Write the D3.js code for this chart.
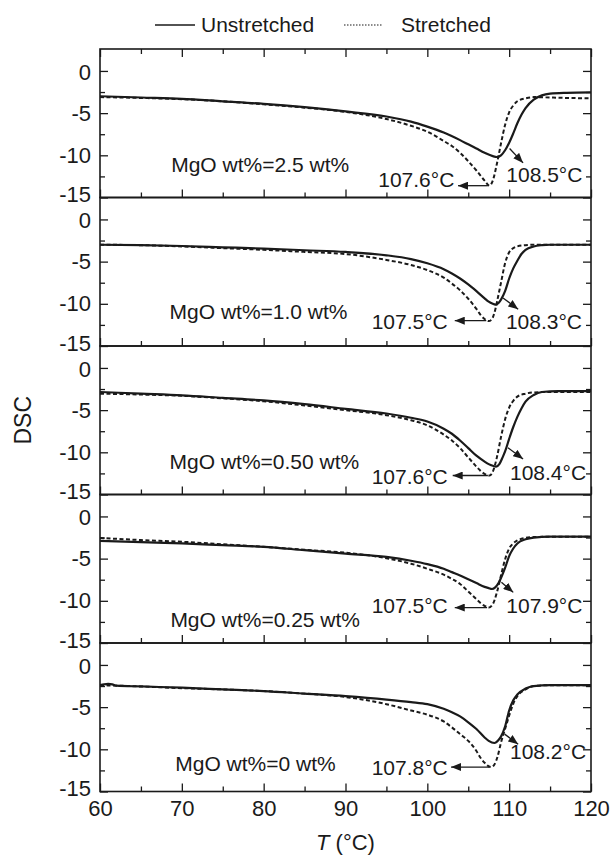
<!DOCTYPE html>
<html>
<head>
<meta charset="utf-8">
<script src="https://cdn.jsdelivr.net/npm/d3@7"></script>
<style>
  body { margin: 0; background: #fff; }
  svg { display: block; }
  text { font-family: "Liberation Sans", Arial, Helvetica, sans-serif; fill: #1a1a1a; }
</style>
</head>
<body>
<svg id="chart" width="612" height="857"></svg>
<script>
// ---- DSC melting curves, MgO loading series ----
const loadings = ["2.5", "1.0", "0.50", "0.25", "0"];           // wt%
const peakUnstretched = [108.5, 108.3, 108.4, 107.9, 108.2];      // °C
const peakStretched   = [107.6, 107.5, 107.6, 107.5, 107.8];      // °C

// [T (°C), DSC] pairs, unstretched (solid) and stretched (dashed)
const unstretched25 = [[60,-3.0],[65,-3.15],[70,-3.3],[75,-3.6],[80,-3.9],[85,-4.3],[90,-4.8],[95,-5.4],[98,-6.0],[100,-6.6],[102,-7.3],[104,-8.2],[105,-8.7],[106,-9.2],[107,-9.7],[108,-10.1],[108.5,-10.2],[109,-10.0],[109.5,-9.4],[110,-8.5],[110.5,-7.4],[111,-6.2],[111.5,-5.2],[112,-4.4],[113,-3.4],[114,-2.9],[115,-2.7],[117,-2.6],[120,-2.55]];
const stretched25   = [[60,-3.1],[65,-3.2],[70,-3.35],[75,-3.6],[80,-3.95],[85,-4.35],[90,-4.85],[95,-5.7],[98,-6.5],[100,-7.2],[102,-8.3],[103,-8.9],[104,-9.7],[105,-10.7],[106,-11.8],[106.5,-12.4],[107,-13.0],[107.6,-13.6],[108,-13.0],[108.5,-11.0],[109,-8.6],[109.5,-6.4],[110,-4.9],[110.5,-4.1],[111,-3.6],[112,-3.25],[113,-3.1],[115,-3.15],[117,-3.2],[120,-3.25]];

const unstretched10 = [[60,-3.0],[65,-3.05],[70,-3.15],[75,-3.3],[80,-3.45],[85,-3.65],[90,-3.85],[95,-4.25],[98,-4.7],[100,-5.2],[102,-5.9],[103,-6.4],[104,-7.0],[105,-7.7],[106,-8.5],[107,-9.35],[107.5,-9.75],[108,-10.0],[108.3,-10.1],[108.7,-9.9],[109,-9.5],[109.5,-8.5],[110,-7.0],[110.5,-5.8],[111,-4.9],[111.5,-4.1],[112,-3.6],[113,-3.2],[114,-3.05],[115,-3.0],[120,-3.0]];
const stretched10   = [[60,-3.0],[65,-3.05],[70,-3.2],[75,-3.4],[80,-3.6],[85,-3.85],[90,-4.1],[95,-4.8],[98,-5.4],[100,-6.0],[102,-6.9],[103,-7.6],[104,-8.4],[105,-9.4],[106,-10.6],[106.5,-11.3],[107,-11.8],[107.5,-12.05],[107.9,-11.8],[108.3,-10.7],[108.7,-8.9],[109,-7.5],[109.5,-5.2],[110,-3.9],[110.5,-3.4],[111,-3.2],[112,-3.05],[113,-3.0],[120,-3.0]];

const unstretched050 = [[60,-2.85],[65,-3.05],[70,-3.25],[75,-3.55],[80,-3.85],[85,-4.3],[90,-4.85],[95,-5.4],[98,-5.9],[100,-6.35],[102,-7.2],[103,-7.8],[104,-8.6],[105,-9.5],[106,-10.4],[107,-11.1],[107.5,-11.4],[108,-11.6],[108.4,-11.7],[108.8,-11.4],[109.2,-10.6],[109.5,-9.9],[110,-8.4],[110.5,-7.0],[111,-5.8],[111.5,-4.8],[112,-4.0],[113,-3.2],[114,-2.85],[116,-2.75],[120,-2.75]];
const stretched050   = [[60,-3.05],[65,-3.15],[70,-3.3],[75,-3.6],[80,-3.95],[85,-4.45],[90,-5.0],[95,-5.6],[98,-6.2],[100,-6.8],[102,-7.9],[103,-8.6],[104,-9.5],[105,-10.6],[106,-11.7],[106.5,-12.2],[107,-12.55],[107.6,-12.75],[108,-12.3],[108.5,-10.6],[109,-8.2],[109.5,-6.1],[110,-4.7],[110.5,-3.9],[111,-3.4],[112,-3.05],[113,-2.9],[115,-2.85],[120,-2.85]];

const unstretched025 = [[60,-2.9],[65,-3.05],[70,-3.2],[75,-3.4],[80,-3.6],[85,-4.0],[90,-4.4],[95,-4.8],[98,-5.25],[100,-5.65],[102,-6.2],[103,-6.6],[104,-7.0],[105,-7.45],[106,-7.9],[107,-8.35],[107.5,-8.5],[107.9,-8.6],[108.3,-8.4],[108.7,-7.9],[109,-7.3],[109.5,-6.1],[110,-4.7],[110.5,-3.8],[111,-3.2],[112,-2.7],[113,-2.5],[115,-2.4],[120,-2.4]];
const stretched025   = [[60,-2.55],[65,-2.8],[70,-3.0],[75,-3.3],[80,-3.6],[85,-3.95],[90,-4.3],[95,-4.95],[98,-5.6],[100,-6.2],[102,-6.9],[103,-7.4],[104,-8.0],[105,-8.9],[106,-9.8],[106.5,-10.25],[107,-10.6],[107.5,-10.8],[108,-10.4],[108.5,-9.0],[109,-7.0],[109.5,-5.1],[110,-3.8],[110.5,-3.2],[111,-2.85],[112,-2.55],[113,-2.45],[115,-2.4],[120,-2.4]];

const unstretched0 = [[60,-2.4],[60.5,-2.3],[61,-2.25],[61.5,-2.3],[62,-2.45],[65,-2.55],[70,-2.7],[75,-2.9],[80,-3.1],[85,-3.4],[90,-3.7],[95,-4.1],[98,-4.4],[100,-4.65],[102,-5.2],[103,-5.6],[104,-6.1],[105,-6.8],[106,-7.6],[107,-8.6],[107.5,-9.0],[108.2,-9.25],[108.7,-8.9],[109,-8.5],[109.5,-7.3],[110,-5.4],[110.5,-4.2],[111,-3.5],[112,-2.8],[113,-2.5],[115,-2.4],[120,-2.4]];
const stretched0   = [[60,-2.4],[65,-2.55],[70,-2.75],[75,-2.9],[80,-3.1],[85,-3.4],[90,-3.8],[95,-4.65],[98,-5.4],[100,-5.9],[102,-6.7],[103,-7.4],[104,-8.2],[105,-9.0],[106,-10.2],[106.5,-11.0],[107,-11.6],[107.8,-12.1],[108.2,-11.8],[108.6,-10.8],[109,-9.2],[109.5,-7.6],[110,-6.0],[110.5,-4.6],[111,-3.7],[112,-2.9],[113,-2.5],[115,-2.4],[120,-2.4]];

const unstretchedSeries = [unstretched25, unstretched10, unstretched050, unstretched025, unstretched0];
const stretchedSeries   = [stretched25, stretched10, stretched050, stretched025, stretched0];

const xMajor = [60, 70, 80, 90, 100, 110, 120];
const xMinor = [65, 75, 85, 95, 105, 115];
const yMajor = [0, -5, -10, -15];
const yMinor = [-2.5, -7.5, -12.5];

// ---- annotation placement per panel (data coordinates) ----
const noteLayout = [
  { tag: [68.7, -12.0], sText: [103.3, -13.8], sArrow: [107.4, 103.75, -13.6],  uText: [109.65, -13.2], uArrow: [110.05, -9.2, 111.7, -10.9] },
  { tag: [68.5, -11.8], sText: [102.5, -12.95], sArrow: [107.2, 103.35, -12.0], uText: [109.6, -13.0],  uArrow: [109.25, -9.3, 111.1, -10.65] },
  { tag: [68.5, -12.0], sText: [102.5, -13.8], sArrow: [107.4, 103.1, -12.75],  uText: [110.1, -13.3],  uArrow: [109.85, -9.45, 111.7, -10.8] },
  { tag: [68.6, -13.1], sText: [102.5, -11.5], sArrow: [107.3, 103.35, -10.8],  uText: [109.65, -11.4], uArrow: [109.05, -7.8, 110.5, -9.0] },
  { tag: [69.2, -12.6], sText: [102.5, -13.0], sArrow: [107.6, 102.9, -12.1],   uText: [110.1, -11.2],  uArrow: [109.45, -8.2, 111.1, -9.4] }
];

// ---- layout ----
const plotLeft = 100, plotRight = 591, top0 = 49, panelH = 148.5;
const ink = "#1a1a1a";

const svg = d3.select("#chart");
const x = d3.scaleLinear().domain([60, 120]).range([plotLeft, plotRight]);

const defs = svg.append("defs");
defs.append("marker")
  .attr("id", "arrowHead")
  .attr("markerUnits", "userSpaceOnUse")
  .attr("viewBox", "0 0 10 8")
  .attr("refX", 10).attr("refY", 4)
  .attr("markerWidth", 10).attr("markerHeight", 8)
  .attr("orient", "auto")
  .append("path").attr("d", "M0,0L10,4L0,8Z").attr("fill", ink);

const fmt = d => String(d);

loadings.forEach((loading, i) => {
  const yTop = top0 + i * panelH;
  const yBot = yTop + panelH;
  const y = d3.scaleLinear().domain([-15, 2.6]).range([yBot, yTop]);
  const g = svg.append("g").attr("class", "panel");

  defs.append("clipPath").attr("id", "clip" + i)
    .append("rect").attr("x", plotLeft).attr("y", yTop)
    .attr("width", plotRight - plotLeft).attr("height", panelH);

  // axes: ticks point inward on every side
  const styleAxis = sel => {
    sel.select(".domain").remove();
    sel.selectAll("line").attr("stroke", ink).attr("stroke-width", 1.3);
    sel.selectAll("text").attr("font-size", 22).attr("fill", ink)
      .attr("font-family", '"Liberation Sans", Arial, sans-serif');
  };

  const leftAxis = g.append("g").attr("transform", `translate(${plotLeft},0)`)
    .call(d3.axisLeft(y).tickValues(yMajor).tickSize(-8).tickPadding(9).tickFormat(fmt))
    .call(styleAxis);
  // the bottom label of one panel and the top label of the next share the seam
  leftAxis.selectAll(".tick text")
    .attr("dy", d => d === -15 ? "0.2em" : d === 0 ? "0.38em" : "0.32em");
  g.append("g").attr("transform", `translate(${plotLeft},0)`)
    .call(d3.axisLeft(y).tickValues(yMinor).tickSize(-5).tickFormat(""))
    .call(styleAxis);
  g.append("g").attr("transform", `translate(${plotRight},0)`)
    .call(d3.axisRight(y).tickValues(yMajor).tickSize(-8).tickFormat(""))
    .call(styleAxis);
  g.append("g").attr("transform", `translate(${plotRight},0)`)
    .call(d3.axisRight(y).tickValues(yMinor).tickSize(-5).tickFormat(""))
    .call(styleAxis);

  const lastPanel = i === loadings.length - 1;
  g.append("g").attr("transform", `translate(0,${yBot})`)
    .call(d3.axisBottom(x).tickValues(xMajor).tickSize(-8).tickPadding(9)
      .tickFormat(lastPanel ? fmt : ""))
    .call(styleAxis);
  g.append("g").attr("transform", `translate(0,${yBot})`)
    .call(d3.axisBottom(x).tickValues(xMinor).tickSize(-5).tickFormat(""))
    .call(styleAxis);
  if (i === 0) {
    g.append("g").attr("transform", `translate(0,${yTop})`)
      .call(d3.axisTop(x).tickValues(xMajor).tickSize(-8).tickFormat(""))
      .call(styleAxis);
    g.append("g").attr("transform", `translate(0,${yTop})`)
      .call(d3.axisTop(x).tickValues(xMinor).tickSize(-5).tickFormat(""))
      .call(styleAxis);
  }

  // curves
  const line = d3.line().x(d => x(d[0])).y(d => y(d[1])).curve(d3.curveMonotoneX);
  const curves = g.append("g").attr("clip-path", `url(#clip${i})`);
  curves.append("path").datum(stretchedSeries[i])
    .attr("d", line).attr("fill", "none").attr("stroke", ink)
    .attr("stroke-width", 2).attr("stroke-dasharray", "4,2.5");
  curves.append("path").datum(unstretchedSeries[i])
    .attr("d", line).attr("fill", "none").attr("stroke", ink)
    .attr("stroke-width", 2.2);

  // frame
  g.append("rect").attr("x", plotLeft).attr("y", yTop)
    .attr("width", plotRight - plotLeft).attr("height", panelH)
    .attr("fill", "none").attr("stroke", ink).attr("stroke-width", 1.6);

  // annotations
  const L = noteLayout[i];
  g.append("text").attr("x", x(L.tag[0])).attr("y", y(L.tag[1]))
    .attr("font-size", 21).text(`MgO wt%=${loading} wt%`);

  g.append("text").attr("x", x(L.sText[0])).attr("y", y(L.sText[1]))
    .attr("text-anchor", "end").attr("font-size", 21)
    .text(`${peakStretched[i].toFixed(1)}°C`);
  g.append("line")
    .attr("x1", x(L.sArrow[0])).attr("x2", x(L.sArrow[1]))
    .attr("y1", y(L.sArrow[2])).attr("y2", y(L.sArrow[2]))
    .attr("stroke", ink).attr("stroke-width", 1.3).attr("marker-end", "url(#arrowHead)");

  g.append("text").attr("x", x(L.uText[0])).attr("y", y(L.uText[1]))
    .attr("font-size", 21)
    .text(`${peakUnstretched[i].toFixed(1)}°C`);
  g.append("line")
    .attr("x1", x(L.uArrow[0])).attr("y1", y(L.uArrow[1]))
    .attr("x2", x(L.uArrow[2])).attr("y2", y(L.uArrow[3]))
    .attr("stroke", ink).attr("stroke-width", 1.3).attr("marker-end", "url(#arrowHead)");
});

// axis titles
svg.append("text")
  .attr("transform", `translate(31,${top0 + panelH * 2.5}) rotate(-90)`)
  .attr("text-anchor", "middle").attr("font-size", 23).text("DSC");

const xTitle = svg.append("text")
  .attr("x", (plotLeft + plotRight) / 2).attr("y", 850)
  .attr("text-anchor", "middle").attr("font-size", 22);
xTitle.append("tspan").attr("font-style", "italic").text("T");
xTitle.append("tspan").text(" (°C)");

// legend
const legend = svg.append("g");
legend.append("line").attr("x1", 155).attr("x2", 195).attr("y1", 25).attr("y2", 25)
  .attr("stroke", ink).attr("stroke-width", 1.6);
legend.append("text").attr("x", 201).attr("y", 32).attr("font-size", 21).text("Unstretched");
legend.append("line").attr("x1", 344).attr("x2", 383).attr("y1", 25).attr("y2", 25)
  .attr("stroke", ink).attr("stroke-width", 1.2).attr("stroke-dasharray", "1.5,1.5");
legend.append("text").attr("x", 401).attr("y", 32).attr("font-size", 21).text("Stretched");
</script>
</body>
</html>
